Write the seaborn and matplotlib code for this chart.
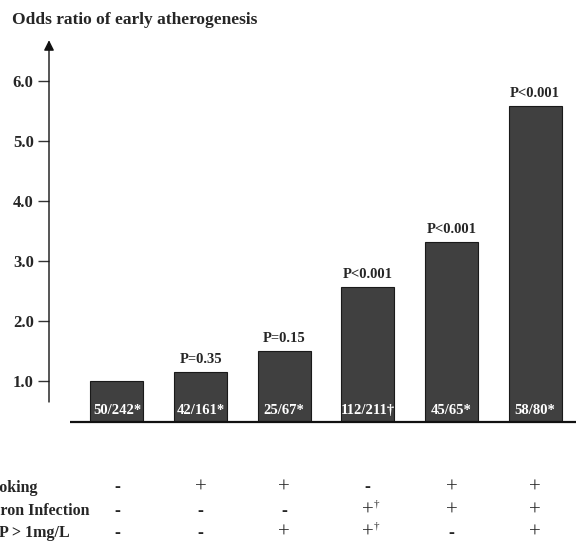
import pandas as pd
import seaborn as sns
import matplotlib.pyplot as plt
from matplotlib.transforms import blended_transform_factory

# data
groups = ['G1', 'G2', 'G3', 'G4', 'G5', 'G6']
odds_ratio = [1.0, 1.15, 1.5, 2.57, 3.32, 5.59]
p_labels = ['', 'P=0.35', 'P=0.15', 'P<0.001', 'P<0.001', 'P<0.001']
counts = ['50/242*', '42/161*', '25/67*', '112/211\u2020', '45/65*', '58/80*']
row_names = ['Smoking', 'Chron Infection', 'CRP > 1mg/L']
smoking = ['-', '+', '+', '-', '+', '+']
infection = ['-', '-', '-', '+\u2020', '+', '+']
crp = ['-', '-', '+', '+\u2020', '-', '+']
yticks = [1.0, 2.0, 3.0, 4.0, 5.0, 6.0]

df = pd.DataFrame({'group': groups, 'odds': odds_ratio})

sns.set_style('white')
plt.rcParams['font.family'] = ['Liberation Serif', 'DejaVu Serif']

fig = plt.figure(figsize=(5.76, 5.41), dpi=100)
ax = fig.add_axes([49 / 576, 119 / 541, 527 / 576, 383 / 541])

sns.barplot(data=df, x='group', y='odds', color='#404040', width=0.634,
            saturation=1, edgecolor='#1a1a1a', linewidth=0.8, ax=ax)

ybot = 0.317
ax.set_xlim(-0.813, 5.49)
ax.set_ylim(ybot, 6.7)
ax.set_xlabel('')
ax.set_ylabel('')
ax.set_xticks([])
for s in ax.spines.values():
    s.set_visible(False)

ax.set_yticks(yticks)
ax.set_yticklabels([f'{t:.1f}' for t in yticks], fontweight='bold', fontsize=12)
ax.tick_params(axis='y', left=True, length=8, width=1.0, pad=3, color='#333333')

# y axis with arrow
ax.annotate('', xy=(0, 6.68), xytext=(0, 0.65), xycoords=('axes fraction', 'data'),
            textcoords=('axes fraction', 'data'),
            arrowprops=dict(arrowstyle='-|>', color='#111111', lw=1.0,
                            mutation_scale=15, shrinkA=0, shrinkB=0),
            annotation_clip=False)

# baseline
ax.plot([-0.562, 5.49], [ybot, ybot], color='#111111', lw=1.6, clip_on=False,
        solid_capstyle='butt')

for i, (v, p, c) in enumerate(zip(odds_ratio, p_labels, counts)):
    if p:
        ax.annotate(p, (i, v), xytext=(0, 4), textcoords='offset points',
                    ha='center', va='bottom', fontsize=10.5, fontweight='bold')
    ax.annotate(c, (i, ybot), xytext=(0, 8.5), textcoords='offset points',
                ha='center', va='center', fontsize=10.5, fontweight='bold',
                color='white')

fig.text(12 / 576, 1 - 20 / 541, 'Odds ratio of early atherogenesis',
         fontsize=12.5, fontweight='bold', va='center', ha='left')

# table of risk factors under the bars (left part cut by the figure edge)
trans = blended_transform_factory(ax.transData, fig.transFigure)
row_y = [488, 511, 533]
row_x = [-23, -20, -24]
for name, marks, yp, xp in zip(row_names, [smoking, infection, crp], row_y, row_x):
    yf = 1 - yp / 541
    fig.text(xp / 576, yf, name, fontsize=11.5, fontweight='bold',
             va='center', ha='left')
    for i, m in enumerate(marks):
        sym = m[0]
        if sym == '+':
            ax.text(i, yf, sym, transform=trans, ha='center', va='center',
                    fontsize=15, clip_on=False)
        else:
            ax.text(i, yf, sym, transform=trans, ha='center', va='center',
                    fontsize=13, fontweight='bold', clip_on=False)
        if len(m) > 1:
            ax.annotate(m[1], (i, yf), xycoords=trans, xytext=(6, 5),
                        textcoords='offset points', ha='center', va='center',
                        fontsize=8, annotation_clip=False)

fig.savefig('out.png', dpi=100)
